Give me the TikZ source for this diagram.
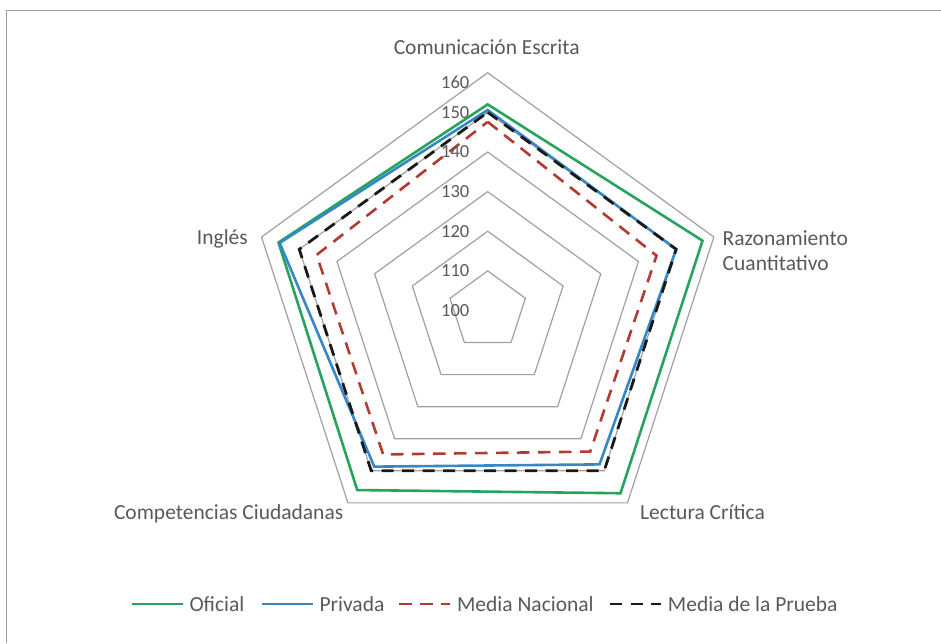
\documentclass[tikz,border=0pt]{standalone}
\usepackage{fontspec}
\setmainfont{Carlito}
\usepackage{xcolor}
\usepackage{tikz}
\usetikzlibrary{positioning}
\definecolor{cgris}{HTML}{A0A0A0}
\definecolor{ctexto}{HTML}{595959}
\definecolor{cverde}{HTML}{27A35B}
\definecolor{cazul}{HTML}{3587C8}
\definecolor{crojo}{HTML}{B23A30}

\begin{document}
\begin{tikzpicture}[x=1pt,y=1pt,
		anillo/.style={draw=cgris,line width=1.2pt},
		oficial/.style={draw=cverde,line width=2.6pt},
		privada/.style={draw=cazul,line width=2.6pt},
		nacional/.style={draw=crojo,line width=2.6pt,dash pattern=on 12.5pt off 8.5pt},
		prueba/.style={draw=black!90,line width=2.8pt,dash pattern=on 12pt off 8.5pt},
		eje/.style={text=ctexto,font=\fontsize{21.5}{25.7}\selectfont,inner sep=0pt},
		escala/.style={text=ctexto,font=\fontsize{18.5}{21}\selectfont,inner sep=0pt,anchor=east}]
	\useasboundingbox (0,0) rectangle (941,643);
	\draw[cgris,line width=1.5pt] (6.5,0) -- (6.5,632.3) -- (941,632.3);
	\coordinate (o) at (487.7,332.5);
	\foreach [evaluate=\v as \r using (\v-100)*3.963] \v in {110,120,...,160}
		\draw[anillo,shift={(o)}] (90:\r) -- (18:\r) -- (-54:\r) -- (-126:\r) -- (162:\r) -- cycle;
	\foreach \s/\a/\b/\c/\d/\e in {oficial/152/157/157/156/155.5,privada/150.6/150/148/148.7/155.2,nacional/147.6/144.8/144/144.9/145.4,prueba/150/150/150/150/150}
		\draw[\s,shift={(o)}] (90:{(\a-100)*3.963}) -- (18:{(\b-100)*3.963}) -- (-54:{(\c-100)*3.963}) -- (-126:{(\d-100)*3.963}) -- (162:{(\e-100)*3.963}) -- cycle;
	\foreach [evaluate=\v as \hh using {min((\v-100)*3.963,228.5)}] \v in {100,110,...,160}
		\node[escala] (t\v) at ([shift={(-18.2,\hh)}]o) {\v};
	\node[eje,anchor=base] (ce) at (486.7,588) {Comunicación Escrita};
	\node[eje,anchor=west,align=left] (rc) at (722.5,392.2) {Razonamiento\\Cuantitativo};
	\node[eje,anchor=base west] (lc) at (640,123.7) {Lectura Crítica};
	\node[eje,anchor=base east] (cc) at (343.5,123.7) {Competencias Ciudadanas};
	\node[eje,anchor=base east] (ing) at (248,398.7) {Inglés};
	\foreach \s/\x/\t [count=\i] in {oficial/131.7/Oficial,privada/261.7/Privada,nacional/399.3/Media Nacional,prueba/610/Media de la Prueba}
		\draw[\s] (\x,39) -- ++(51,0) node[eje,right=5.5pt] (ley\i) {\t};
\end{tikzpicture}
\end{document}
